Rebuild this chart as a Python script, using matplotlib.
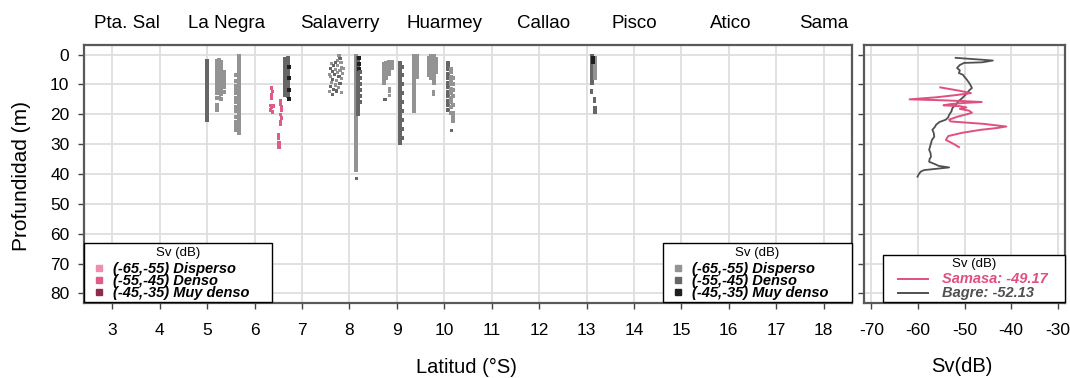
import matplotlib
matplotlib.use("Agg")
import matplotlib.pyplot as plt
from matplotlib.patches import Rectangle
from matplotlib.lines import Line2D
from matplotlib.transforms import blended_transform_factory

plt.rcParams['font.family'] = ['Liberation Sans', 'DejaVu Sans']
plt.rcParams['axes.unicode_minus'] = False

# ---------------- data ----------------
station_names = ["Pta. Sal", "La Negra", "Salaverry", "Huarmey", "Callao", "Pisco", "Atico", "Sama"]
station_lat = [3.3, 5.4, 7.8, 10.0, 12.1, 14.0, 16.05, 18.0]

lat_ticks = [3, 4, 5, 6, 7, 8, 9, 10, 11, 12, 13, 14, 15, 16, 17, 18]
depth_ticks = [0, 10, 20, 30, 40, 50, 60, 70, 80]
sv_ticks = [-70, -60, -50, -40, -30]

sv_classes = ["(-65,-55) Disperso", "(-55,-45) Denso", "(-45,-35) Muy denso"]
gray_colors = ["#939393", "#666666", "#1e1e1e"]
pink_colors = ["#ef8db0", "#e05c88", "#8e2c50"]

# Bagre echo tracks: latitude of each column, depths of its samples, Sv class
bagre_col_lat = [4.99, 5.20, 5.25, 5.30, 5.35, 5.68, 5.60, 6.64, 6.70, 6.73,
                 8.13, 8.17, 8.21, 8.22, 8.73, 8.78, 8.83, 8.90, 9.07, 9.11,
                 9.37, 9.42, 9.68, 9.73, 9.78, 9.83, 10.08, 10.14, 10.19,
                 13.12, 13.17, 13.13]
bagre_col_dep = [
    [2, 3, 4, 5, 6, 7, 8, 9, 10, 11, 12, 13, 14, 15, 16, 17, 18, 19, 20, 21, 22],
    [2, 3, 4, 5, 6, 7, 8, 9, 10, 11, 12, 13, 14.5, 16.8, 17.6, 18.5],
    [1.8, 2.8, 3.8, 4.8, 5.8, 6.8, 7.8, 8.8, 9.8, 10.8, 11.8, 12.8, 14.6],
    [2.5, 3.5, 4.5, 5.5, 6.5, 7.5, 8.5, 9.5, 10.5, 11.5, 12.5, 13.3, 15.0],
    [6, 7, 8, 9, 10, 11, 12.5],
    [0.6, 1.6, 2.6, 3.6, 4.6, 5.6, 6.6, 7.6, 8.6, 9.6, 10.6, 11.6, 12.6, 13.6,
     14.6, 15.6, 16.6, 17.6, 18.6, 19.6, 20.6, 21.6, 22.6, 23.6, 24.6, 25.6, 26.3],
    [7, 9, 10.5, 12, 13, 14.5, 16, 17.5, 19, 21, 22.5, 24, 25.2],
    [1.5, 2.5, 3.5, 4.5, 5.5, 6.5, 7.5, 8.5, 9.5, 10.5, 11.5, 12.5, 13.5],
    [1, 2, 3, 4, 5, 6, 7, 8, 9, 10, 11, 12, 13, 14],
    [4, 8, 12, 14.8],
    [0.6, 1.6, 2.6, 3.6, 4.6, 5.6, 6.6, 7.6, 8.6, 9.6, 10.6, 11.6, 12.6, 13.6,
     14.6, 15.6, 16.6, 17.6, 18.6, 19.6, 20.6, 21.6, 22.6, 23.6, 24.6, 25.6,
     26.6, 27.6, 28.6, 29.6, 30.6, 31.6, 32.6, 33.6, 34.6, 35.6, 36.6, 37.6, 38.7],
    [1, 2, 3, 4, 5, 6, 7, 8, 9, 10, 11, 12, 13, 14, 15, 16, 17, 18, 19, 20],
    [1, 3, 5],
    [6, 8, 10, 12, 14, 16],
    [3, 4, 5, 6, 7, 8, 9, 9.5],
    [2.8, 4, 5, 6, 7, 8],
    [2.5, 3.5, 4.5, 5.5, 6.5],
    [2.5, 3.5, 4.5],
    [2.8, 3.8, 4.8, 5.8, 6.8, 7.8, 8.8, 9.8, 10.8, 11.8, 12.8, 13.8, 14.8, 15.8,
     16.8, 17.8, 18.8, 19.8, 20.8, 21.8, 22.8, 23.8, 24.8, 25.8, 26.8, 27.8, 28.8, 29.7],
    [4, 7, 10, 13, 16, 19, 22, 25, 28],
    [0.6, 1.6, 2.6, 3.6, 4.6, 5.6, 6.6, 7.6, 8.6, 9.6, 10.6, 11.6, 12.6, 13.6,
     14.6, 15.6, 16.6, 17.6, 19.0],
    [0.6, 1.6, 2.6, 3.6, 4.6, 5.6, 6.6, 7.6],
    [1, 2, 3, 4, 5, 6, 7],
    [0.6, 1.6, 2.6, 3.6, 4.6, 5.6, 6.6, 8.0],
    [0.6, 1.6, 2.6, 3.6, 4.6, 5.6, 6.6, 7.6, 8.6, 9.5],
    [1.5, 2.5, 3.5, 4.5, 6.0],
    [2.8, 3.8, 5, 6.5, 8, 9.5, 11, 12.5, 14, 15.5, 17, 18.5],
    [5, 6, 7.5, 9, 10, 11.5, 13, 14.5, 16, 17.5, 19.5],
    [8, 10, 12, 14, 17, 19.6, 21, 22.4],
    [0.6, 1.6, 2.6, 3.6, 4.6, 5.6, 6.6, 7.6, 8.6, 9.6],
    [1, 2, 3, 4, 5, 6, 7, 8],
    [1, 2.5],
]
bagre_col_cat = [1, 0, 0, 0, 0, 0, 0, 1, 1, 2,
                 0, 1, 2, 1, 0, 0, 0, 0, 1, 1,
                 0, 0, 0, 0, 0, 0, 1, 0, 0,
                 1, 0, 2]

# Scattered Bagre samples (latitude, depth, class)
bagre_pt_lat = [7.78, 7.80, 7.75, 7.70, 7.82, 7.62, 7.66, 7.75, 7.84, 7.60, 7.70,
                7.80, 7.64, 7.74, 7.86, 7.68, 7.60, 7.78, 7.84, 7.65, 7.72, 7.62,
                7.80, 7.70, 7.60, 7.76, 7.66, 7.58, 7.72, 7.84, 7.64, 7.88, 7.58,
                8.15, 8.85, 8.85, 8.85, 8.75, 9.78, 9.78, 10.16,
                13.10, 13.10, 13.16, 13.16, 13.18, 13.18, 13.18]
bagre_pt_dep = [0.3, 1.2, 2.0, 2.6, 2.8, 3.0, 3.6, 3.8, 4.2, 4.6, 5.0,
                5.3, 5.8, 6.0, 6.2, 6.8, 7.4, 7.3, 7.9, 8.4, 8.8, 9.4,
                9.6, 10.2, 10.8, 11.0, 11.8, 12.4, 12.2, 12.8, 13.4, 4.8, 6.6,
                41.5, 11.5, 12.5, 13.6, 15.1, 12.3, 13.4, 25.4,
                12.0, 12.7, 14.8, 15.6, 17.8, 18.6, 19.4]
bagre_pt_cat = [0, 1, 0, 1, 0, 0, 1, 0, 0, 1, 0,
                0, 1, 0, 0, 1, 0, 1, 0, 1, 0, 0,
                1, 0, 1, 0, 1, 0, 1, 0, 1, 0, 0,
                1, 0, 0, 0, 1, 0, 0, 1,
                1, 1, 1, 1, 1, 1, 1]

# Samasa echo samples (latitude, depth, class)
samasa_lat = [6.36, 6.38, 6.36, 6.35, 6.34, 6.36, 6.33, 6.38, 6.40,
              6.55, 6.55, 6.57, 6.57, 6.55, 6.56, 6.55, 6.54,
              6.50, 6.50, 6.51, 6.51, 6.51]
samasa_dep = [11.2, 12.3, 13.5, 14.5, 17.0, 17.8, 18.6, 19.2, 17.2,
              15.4, 16.5, 17.6, 18.7, 20.0, 21.3, 22.5, 23.5,
              27.0, 28.2, 29.5, 30.5, 31.2]
samasa_cat = [1] * 22

# Mean Sv profiles by depth
samasa_prof_dep = [11.0, 12.0, 12.9, 13.3, 13.6, 14.3, 15.0, 15.3, 15.6, 15.9, 16.2,
                   16.6, 17.0, 17.3, 17.7, 18.2, 18.8, 19.5, 20.0, 20.8, 21.8, 22.4,
                   23.2, 24.1, 24.6, 25.2, 26.2, 27.3, 28.6, 29.8, 31.0]
samasa_prof_sv = [-55.2, -51.5, -48.6, -50.5, -52.0, -56.0, -61.8, -55.0, -50.0, -46.3, -50.0,
                  -53.0, -54.5, -51.0, -49.6, -51.0, -49.0, -48.4, -49.5, -51.5, -53.3, -53.0,
                  -46.0, -41.0, -43.0, -46.5, -50.5, -53.5, -54.0, -52.5, -51.2]
bagre_prof_dep = [1.1, 1.7, 2.0, 2.6, 2.8, 3.5, 4.5, 5.3, 6.2, 6.8, 7.3, 8.2, 9.5, 10.3,
                  11.2, 12.0, 12.9, 13.8, 14.6, 15.5, 16.8, 17.9, 19.0, 20.2, 21.0, 21.8,
                  22.6, 23.5, 24.3, 25.2, 26.3, 27.5, 28.6, 29.7, 30.8, 31.9, 33.0, 34.2,
                  35.0, 35.9, 36.6, 37.3, 37.8, 38.1, 38.7, 39.2, 40.0, 40.9]
bagre_prof_sv = [-51.9, -46.5, -43.9, -46.2, -50.1, -51.0, -51.6, -51.0, -51.2, -50.3, -50.1,
                 -49.6, -49.0, -48.7, -48.4, -49.0, -49.4, -50.0, -50.5, -51.2, -51.9, -52.6,
                 -52.8, -53.3, -53.5, -54.0, -55.4, -56.1, -56.4, -56.9, -56.6, -56.5, -57.0,
                 -57.2, -57.4, -57.6, -57.3, -57.2, -57.5, -57.6, -56.5, -55.5, -53.3, -55.1,
                 -58.7, -59.4, -59.8, -60.1]
samasa_mean = -49.17
bagre_mean = -52.13

# ---------------- figure ----------------
W, H = 1070, 378
fig = plt.figure(figsize=(W / 100, H / 100), dpi=100)
fig.patch.set_facecolor("white")


def fx(px):
    return px / W


def fy(py):
    return 1 - py / H


ax = fig.add_axes([fx(84), fy(303), fx(852) - fx(84), fy(45) - fy(303)])
ax2 = fig.add_axes([fx(864), fy(303), fx(1065) - fx(864), fy(45) - fy(303)])

spine_col = "#595959"
for a in (ax, ax2):
    a.set_ylim(83.2, -3.2)
    a.set_yticks(depth_ticks)
    a.grid(True, color="#dedede", lw=1.3, zorder=0)
    a.set_axisbelow(True)
    for s in a.spines.values():
        s.set_color(spine_col)
        s.set_linewidth(1.6)
    a.tick_params(direction="out", length=4.5, width=1, color="#444444",
                  labelsize=12.5)
    a.tick_params(axis="x", pad=10)
    a.tick_params(axis="y", pad=6)

ax.set_xlim(2.4, 18.6)
ax.set_xticks(lat_ticks)
ax2.set_xlim(-71.6, -28.4)
ax2.set_xticks(sv_ticks)
ax2.set_yticklabels([])

# echo samples
for lat, deps, cat in zip(bagre_col_lat, bagre_col_dep, bagre_col_cat):
    ax.scatter([lat] * len(deps), deps, marker="s", s=5, linewidths=0,
               color=gray_colors[cat], zorder=3)
ax.scatter(bagre_pt_lat, bagre_pt_dep, marker="s", s=5, linewidths=0,
           color=[gray_colors[c] for c in bagre_pt_cat], zorder=3)
ax.scatter(samasa_lat, samasa_dep, marker="s", s=6, linewidths=0,
           color=[pink_colors[c] for c in samasa_cat], zorder=3)

# profiles
pink_line = "#e0507f"
gray_line = "#505050"
ax2.plot(bagre_prof_sv, bagre_prof_dep, color=gray_line, lw=1.3, zorder=3)
ax2.plot(samasa_prof_sv, samasa_prof_dep, color=pink_line, lw=1.4, zorder=4)

# station names
top_tr = blended_transform_factory(ax.transData, fig.transFigure)
for name, lat in zip(station_names, station_lat):
    ax.text(lat, fy(23), name, transform=top_tr, ha="center", va="center",
            fontsize=13.5)

# axis labels
fig.text(fx(466), fy(367), "Latitud (°S)", ha="center", va="center", fontsize=14.5)
fig.text(fx(962), fy(367), "Sv(dB)", ha="center", va="center", fontsize=14.5)
fig.text(fx(22), fy(176), "Profundidad (m)", ha="center", va="center",
         rotation=90, fontsize=15)


# legends (R-style boxes)
def legend_box(x0, y0, x1, y1):
    fig.add_artist(Rectangle((fx(x0), fy(y1)), fx(x1) - fx(x0), fy(y0) - fy(y1),
                             transform=fig.transFigure, facecolor="white",
                             edgecolor="black", lw=1.0, zorder=5))


def square_legend(x0, y0, x1, y1, colors):
    legend_box(x0, y0, x1, y1)
    fig.text(fx((x0 + x1) / 2), fy(y0 + 10), "Sv (dB)", ha="center", va="center",
             fontsize=9.5, zorder=6)
    rows = [y0 + 26, y0 + 38, y0 + 50]
    for lab, col, ry in zip(sv_classes, colors, rows):
        fig.add_artist(Line2D([fx(x0 + 15)], [fy(ry - 1)], marker="s", ms=4.2,
                              color=col, lw=0, transform=fig.transFigure, zorder=6))
        fig.text(fx(x0 + 29), fy(ry), lab, ha="left", va="center", fontsize=10.5,
                 fontweight="bold", fontstyle="italic", zorder=6)


square_legend(84, 243, 272, 302, pink_colors)
square_legend(663, 243, 852, 302, gray_colors)

legend_box(883, 255, 1065, 302)
fig.text(fx(974), fy(264), "Sv (dB)", ha="center", va="center", fontsize=9.5, zorder=6)
for lab, val, col, ry in [("Samasa", samasa_mean, pink_line, 279),
                          ("Bagre", bagre_mean, gray_line, 293)]:
    fig.add_artist(Line2D([fx(898), fx(928)], [fy(ry), fy(ry)], color=col, lw=1.4,
                          transform=fig.transFigure, zorder=6))
    fig.text(fx(942), fy(ry), f"{lab}: {val:.2f}", ha="left", va="center",
             fontsize=10.5, fontweight="bold", fontstyle="italic", color=col, zorder=6)

fig.savefig("out.png", dpi=100, facecolor="white")
